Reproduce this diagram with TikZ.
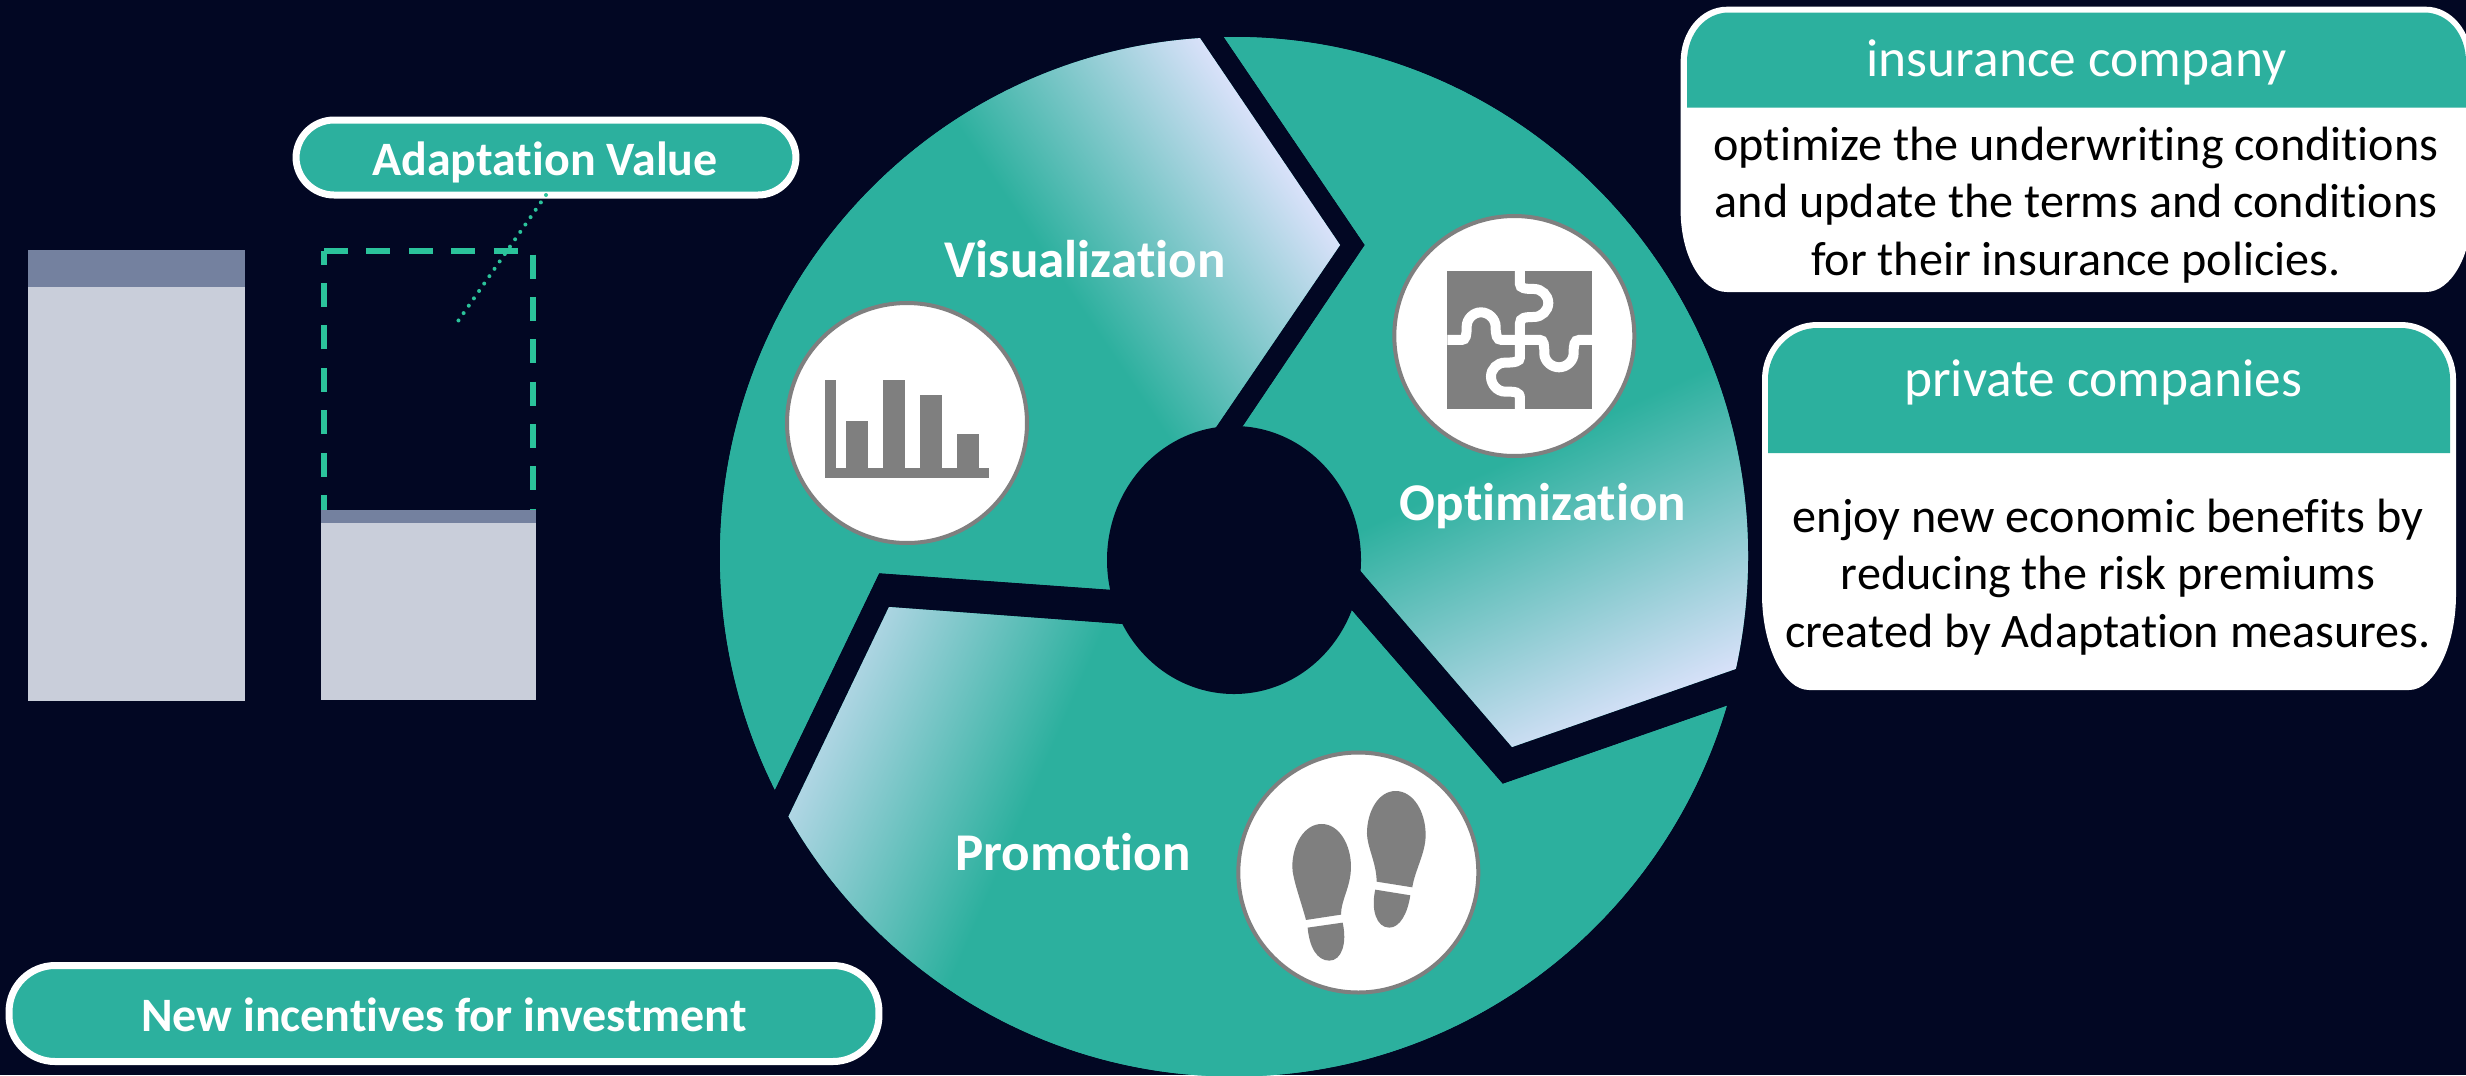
\documentclass[tikz,border=0pt]{standalone}
\usepackage{fontspec}
\setmainfont{Carlito}[Ligatures=NoCommon]
\newcommand{\px}{0.2845pt}
\definecolor{bgc}{HTML}{020723}
\definecolor{tealc}{HTML}{2CB09E}
\definecolor{lavc}{HTML}{D8E1F9}
\definecolor{barc}{HTML}{C9CEDA}
\definecolor{bartop}{HTML}{74819F}
\definecolor{dashc}{HTML}{2BC39B}
\definecolor{iconc}{HTML}{7F7F7F}
\pgfdeclarehorizontalshading{visgrad}{100bp}{color(0bp)=(tealc); color(50bp)=(tealc); color(58.33bp)=(lavc); color(100bp)=(lavc)}
\pgfdeclarehorizontalshading{optgrad}{100bp}{color(0bp)=(tealc); color(50bp)=(tealc); color(59.5bp)=(lavc); color(100bp)=(lavc)}
\pgfdeclarehorizontalshading{prograd}{100bp}{color(0bp)=(tealc); color(50bp)=(tealc); color(59.33bp)=(lavc); color(100bp)=(lavc)}
\tikzset{
  pill/.style={draw=white, fill=tealc, line width=7*\px, rounded corners=38*\px, inner sep=0pt, outer sep=0pt},
  pilltext/.style={text=white, inner sep=0pt, anchor=base, font=\fontsize{13.65}{16}\selectfont\bfseries},
  headtext/.style={text=white, inner sep=0pt, font=\fontsize{15.2}{18}\selectfont},
  bodytext/.style={text=black, inner sep=0pt, align=center, font=\fontsize{13.7}{16.4}\selectfont},
  seglabel/.style={text=white, inner sep=0pt, anchor=base, font=\fontsize{15.1}{18}\selectfont\bfseries},
  iconcircle/.style={circle, draw=iconc, fill=white, line width=4*\px, minimum size=240*\px, inner sep=0pt},
  barbody/.style={fill=barc},
  barhead/.style={fill=bartop},
  greendash/.style={draw=dashc, line width=6*\px, dash pattern=on 24*\px off 18.4*\px},
  greendot/.style={draw=dashc, line width=4*\px, line cap=round, dash pattern=on 0pt off 9*\px}
}
\begin{document}
\begin{tikzpicture}[x=0.1mm,y=-0.1mm]
\useasboundingbox (0,0) rectangle (2466,1075);
\fill[bgc] (0,0) rectangle (2466,1075);

% left bars
\fill[barbody] (28,286) rectangle (245,701);
\fill[barhead] (28,250) rectangle (245,287);
\draw[greendash] (324,519) -- (324,250.8);
\draw[greendash] (324,250.8) -- (533.3,250.8);
\draw[greendash] (533.3,254.5) -- (533.3,509);
\fill[barbody] (321,522) rectangle (536,699.5);
\fill[barhead] (321,509.6) rectangle (536,523);

% pills
\node[pill, minimum width=500*\px, minimum height=75*\px] (adapt) at (546,157.5) {};
\node[pilltext] (adapttext) at (545,175.5) {Adaptation Value};
\coordinate (adaptend) at (457,322.6);
\draw[greendot] (adapt.south) -- (adaptend);
\node[pill, minimum width=870*\px, minimum height=96*\px, rounded corners=46*\px] (invest) at (444,1013.5) {};
\node[pilltext] (investtext) at (444,1031) {New incentives for investment};

% wheel: visualization
\begin{scope}
\clip (1192,462) -- (1340,245) -- (1160.6,-20) -- (600,-20) -- (600,891) -- (726,891) -- (879,573) -- (1159,593) -- cycle;
\clip (1234,556) ellipse [x radius=514, y radius=519];
\fill[tealc] (600,-20) rectangle (1900,1100);
\shade[shading=visgrad, shading angle=34] (382.5,-365) rectangle (1882.5,1135);
\end{scope}
% wheel: optimization
\begin{scope}
\clip (1219,462) -- (1365,245) -- (1184,-22) -- (1850,-22) -- (1850,629) -- (1512,747) -- (1330,535) -- cycle;
\clip (1234,556) ellipse [x radius=514, y radius=519];
\fill[tealc] (600,-20) rectangle (1900,1100);
\shade[shading=optgrad, shading angle=-65] (860,-337) rectangle (2360,1163);
\end{scope}
% wheel: promotion
\begin{scope}
\clip (889,607) -- (735,928) -- (735,1100) -- (1850,1100) -- (1850,663) -- (1502.6,784) -- (1319.5,573.4) -- (1165,627.4) -- cycle;
\clip (1234,557.5) ellipse [x radius=514, y radius=519];
\fill[tealc] (600,-20) rectangle (1900,1100);
\shade[shading=prograd, shading angle=156.5] (355,-124) rectangle (1855,1376);
\end{scope}
\fill[bgc] (1234,560) ellipse [x radius=127, y radius=134];

\node[seglabel] (vis) at (1085,277.5) {Visualization};
\node[seglabel] (opt) at (1543,520.6) {Optimization};
\node[seglabel] (pro) at (1073,870.7) {Promotion};

% chart icon
\node[iconcircle] (chartc) at (907,423) {};
\fill[iconc] (825.3,380) rectangle (836,478);
\fill[iconc] (825.3,468) rectangle (989.3,478);
\fill[iconc] (846.3,421) rectangle (868.3,470);
\fill[iconc] (883.3,380) rectangle (905.3,470);
\fill[iconc] (920.3,395) rectangle (942.3,470);
\fill[iconc] (957.3,434.3) rectangle (979.3,470);

% puzzle icon
\node[iconcircle] (puzzc) at (1514.3,336) {};
\begin{scope}[shift={(1380,210)}, x=0.03333mm, y=-0.03333mm]
\fill[iconc] (202,182) rectangle (636,597);
\draw[white, line width=10*\px]
  (420,182) -- (420,222) .. controls (420,235) and (435,237) .. (462,237)
  .. controls (485,237) and (505,256) .. (505,279) .. controls (505,302) and (485,321) .. (462,321)
  .. controls (435,321) and (420,323) .. (420,340) -- (420,442)
  .. controls (420,455) and (405,458) .. (375,458)
  .. controls (352,458) and (333,477) .. (333,500) .. controls (333,523) and (352,545) .. (375,545)
  .. controls (405,545) and (420,545) .. (420,565) -- (420,597);
\draw[white, line width=10*\px]
  (202,390) -- (245,390) .. controls (258,390) and (260,375) .. (260,350)
  .. controls (260,327) and (280,307) .. (303,307) .. controls (326,307) and (347,327) .. (347,350)
  .. controls (347,375) and (350,390) .. (365,390) -- (480,390)
  .. controls (492,390) and (493,405) .. (493,430)
  .. controls (493,453) and (514,472) .. (537,472) .. controls (560,472) and (581,453) .. (581,430)
  .. controls (581,405) and (583,390) .. (597,390) -- (636,390);
\end{scope}

% footprints icon
\node[iconcircle] (footc) at (1358.3,872.5) {};
\begin{scope}[shift={(1230,750)}, x=0.03333mm, y=-0.03333mm]
\fill[iconc] (275,222) .. controls (222,222) and (187,285) .. (187,350)
  .. controls (187,385) and (212,450) .. (228,510) -- (333,494)
  .. controls (333,450) and (363,410) .. (363,350)
  .. controls (363,285) and (328,222) .. (275,222) -- cycle;
\fill[iconc] (233,533) -- (338,518) .. controls (352,580) and (335,632) .. (298,632)
  .. controls (260,632) and (238,590) .. (233,533) -- cycle;
\fill[iconc] (497,123) .. controls (445,123) and (411,185) .. (411,250)
  .. controls (411,290) and (440,340) .. (440,395) -- (547,412)
  .. controls (555,360) and (587,310) .. (587,255)
  .. controls (587,185) and (550,123) .. (497,123) -- cycle;
\fill[iconc] (436,419) -- (541,436) .. controls (533,490) and (510,533) .. (478,533)
  .. controls (440,533) and (422,480) .. (436,419) -- cycle;
\end{scope}

% card 1
\fill[white] (1680.6,62) .. controls (1680.6,31) and (1701,6.7) .. (1727,6.7) -- (2426,6.7)
  .. controls (2451,6.7) and (2472,31) .. (2472,62) -- (2472,210)
  .. controls (2472,255) and (2451,292) .. (2426,292) -- (1727,292)
  .. controls (1701,292) and (1680.6,255) .. (1680.6,210) -- cycle;
\fill[tealc] (1687,62) .. controls (1687,34) and (1705,12.5) .. (1729,12.5) -- (2424,12.5)
  .. controls (2448,12.5) and (2466,34) .. (2466,62) -- (2466,107.6) -- (1687,107.6) -- cycle;
\node[headtext, anchor=base] (h1) at (2076.5,76.5) {insurance company};
\node[bodytext] (b1) at (2076,205) {optimize the underwriting conditions\\and update the terms and conditions\\for their insurance policies.};

% card 2
\fill[white] (1762,379) .. controls (1762,348) and (1787,322) .. (1817,322) -- (2401,322)
  .. controls (2431,322) and (2456,348) .. (2456,379) -- (2456,594)
  .. controls (2456,647) and (2434,690) .. (2409,690) -- (1809,690)
  .. controls (1784,690) and (1762,647) .. (1762,594) -- cycle;
\fill[tealc] (1768,379) .. controls (1768,352) and (1790,328) .. (1817,328) -- (2401,328)
  .. controls (2428,328) and (2450,352) .. (2450,379) -- (2450,453) -- (1768,453) -- cycle;
\node[headtext, anchor=base] (h2) at (2103,396) {private companies};
\node[bodytext] (b2) at (2108,577) {enjoy new economic benefits by\\reducing the risk premiums\\created by Adaptation measures.};
\end{tikzpicture}
\end{document}
